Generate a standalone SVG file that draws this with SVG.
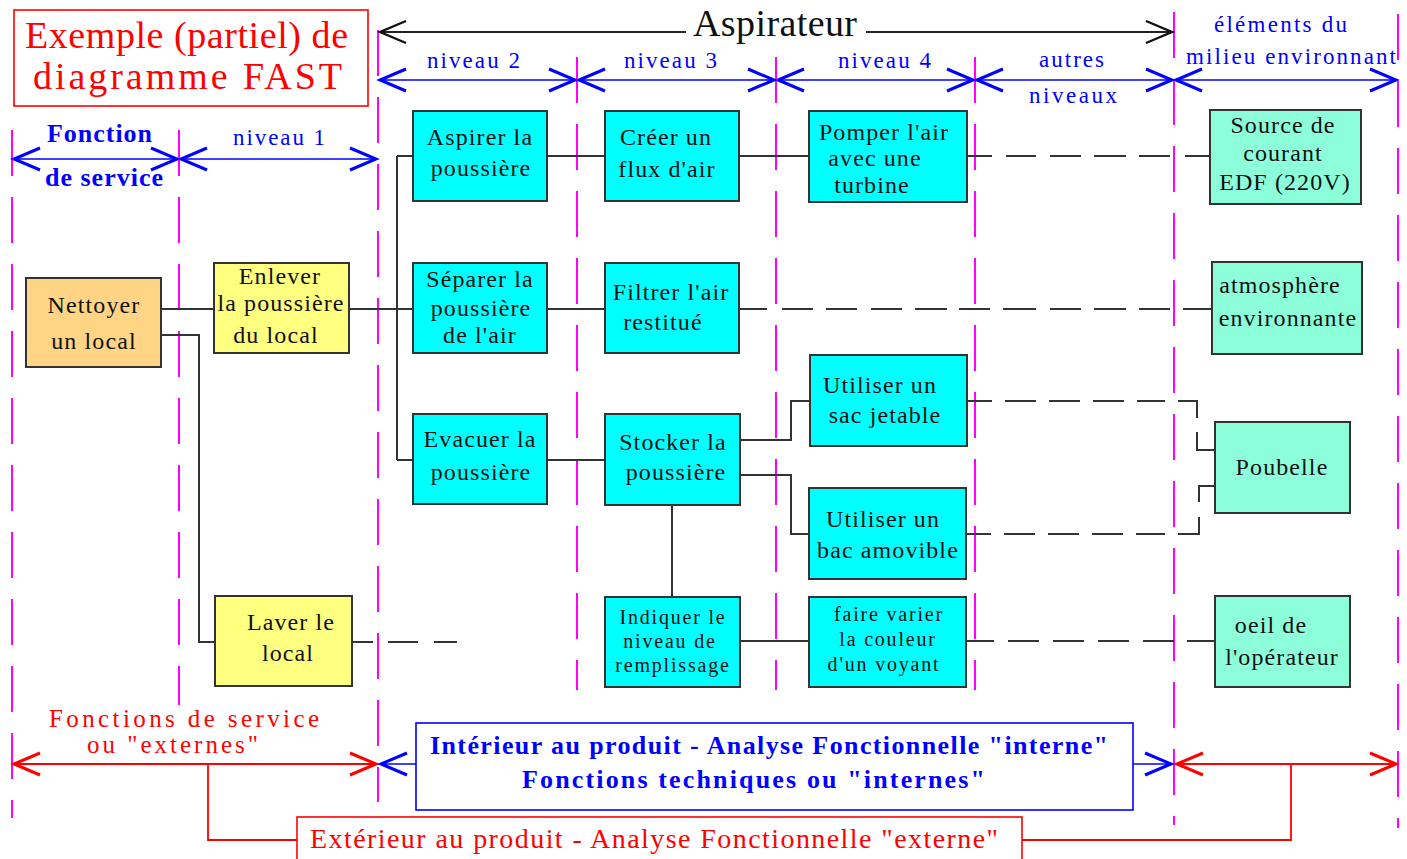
<svg xmlns="http://www.w3.org/2000/svg" width="1407" height="859" viewBox="0 0 1407 859">
<style>
.bg{fill:#fff}
.mg{stroke:#FF00FF;stroke-width:2;stroke-dasharray:46 21;fill:none}
.box{stroke:#333;stroke-width:2}
.cy{fill:#00FFFF}.aq{fill:#8CFFDA}.ye{fill:#FFFF80}.or{fill:#FFD585}
.t{font-family:"Liberation Serif","Times New Roman",serif;font-size:24px;letter-spacing:1.1px;fill:#111;text-anchor:middle}
.s{font-size:20px;letter-spacing:1.8px}
.c{stroke:#333;stroke-width:2;fill:none}
.bl{font-family:"Liberation Serif","Times New Roman",serif;fill:#0000FF}
.rd{font-family:"Liberation Serif","Times New Roman",serif;fill:#FF0000}
.la{stroke:#0000FF;stroke-width:1.6;fill:none}
.lk{stroke:#222;stroke-width:1.8;fill:none}
.lr{stroke:#FF0000;stroke-width:1.8;fill:none}
</style>
<defs>
<marker id="ab" markerUnits="userSpaceOnUse" markerWidth="34" markerHeight="30" refX="29" refY="14" orient="auto-start-reverse" overflow="visible"><path d="M3,3 L29,14 L3,25" fill="none" stroke="#0000FF" stroke-width="3"/></marker>
<marker id="ak" markerUnits="userSpaceOnUse" markerWidth="34" markerHeight="30" refX="29" refY="14" orient="auto-start-reverse" overflow="visible"><path d="M3,3 L29,14 L3,25" fill="none" stroke="#111" stroke-width="2.4"/></marker>
<marker id="ar" markerUnits="userSpaceOnUse" markerWidth="34" markerHeight="30" refX="29" refY="14" orient="auto-start-reverse" overflow="visible"><path d="M3,3 L29,14 L3,25" fill="none" stroke="#FF0000" stroke-width="3"/></marker>
</defs>
<rect class="bg" x="0" y="0" width="1407" height="859"/>

<g id="guides">
<line class="mg" x1="12" y1="130" x2="12" y2="818"/>
<line class="mg" x1="179" y1="130" x2="179" y2="705"/>
<line class="mg" x1="378" y1="30" x2="378" y2="802"/>
<line class="mg" x1="577" y1="57" x2="577" y2="690"/>
<line class="mg" x1="776" y1="57" x2="776" y2="690"/>
<line class="mg" x1="975" y1="57" x2="975" y2="690"/>
<line class="mg" x1="1174" y1="12" x2="1174" y2="825"/>
<line class="mg" x1="1398" y1="14" x2="1398" y2="828"/>
</g>

<g id="title">
<rect x="14" y="10" width="354" height="96" fill="none" stroke="#FF0000" stroke-width="1.6"/>
<text class="rd" x="25" y="48" font-size="38" textLength="323" lengthAdjust="spacing">Exemple (partiel) de</text>
<text class="rd" x="33" y="89" font-size="38" textLength="309" lengthAdjust="spacing">diagramme FAST</text>
</g>

<g id="header">
<path class="lk" d="M380,32 H686" marker-start="url(#ak)"/>
<path class="lk" d="M866,32 H1172" marker-end="url(#ak)"/>
<text x="693" y="36" font-family="Liberation Serif,serif" font-size="38" fill="#111" textLength="164" lengthAdjust="spacing">Aspirateur</text>
<path class="la" d="M380,80 H575" marker-start="url(#ab)" marker-end="url(#ab)"/>
<path class="la" d="M579,80 H774" marker-start="url(#ab)" marker-end="url(#ab)"/>
<path class="la" d="M778,80 H973" marker-start="url(#ab)" marker-end="url(#ab)"/>
<path class="la" d="M977,80 H1172" marker-start="url(#ab)" marker-end="url(#ab)"/>
<path class="la" d="M1176,80 H1396" marker-start="url(#ab)" marker-end="url(#ab)"/>
<path class="la" d="M14,159 H177" marker-start="url(#ab)" marker-end="url(#ab)"/>
<path class="la" d="M181,159 H376" marker-start="url(#ab)" marker-end="url(#ab)"/>
<text class="bl" x="427" y="68" font-size="23" textLength="93" lengthAdjust="spacing">niveau 2</text>
<text class="bl" x="624" y="68" font-size="23" textLength="93" lengthAdjust="spacing">niveau 3</text>
<text class="bl" x="838" y="68" font-size="23" textLength="93" lengthAdjust="spacing">niveau 4</text>
<text class="bl" x="1039" y="67" font-size="23" textLength="65" lengthAdjust="spacing">autres</text>
<text class="bl" x="1029" y="103" font-size="23" textLength="88" lengthAdjust="spacing">niveaux</text>
<text class="bl" x="1214" y="32" font-size="23" textLength="133" lengthAdjust="spacing">éléments du</text>
<text class="bl" x="1186" y="64" font-size="23" textLength="210" lengthAdjust="spacing">milieu environnant</text>
<text class="bl" x="233" y="145" font-size="23" textLength="92" lengthAdjust="spacing">niveau 1</text>
<text class="bl" x="47" y="142" font-size="26" font-weight="bold" textLength="105" lengthAdjust="spacing">Fonction</text>
<text class="bl" x="45" y="186" font-size="26" font-weight="bold" textLength="118" lengthAdjust="spacing">de service</text>
</g>

<g id="connectors">
<path class="c" d="M161,309 H214"/>
<path class="c" d="M349,309 H413"/>
<path class="c" d="M397,156 V460 M397,156 H413 M397,460 H413"/>
<path class="c" d="M161,335 H199 V642 H215"/>
<path class="c" d="M352,642 H457" stroke-dasharray="21 15 30 16 23"/>
<path class="c" d="M547,156 H605"/>
<path class="c" d="M739,156 H809"/>
<path class="c" d="M967,156 H1210" stroke-dasharray="25 14 30 14 31 13 32 13 31 15 25"/>
<path class="c" d="M547,309 H605"/>
<path class="c" d="M739,309 H1212" stroke-dasharray="28 15 31 13 31 14 31 13 32 12 31 13 33 14 31 13 32 13 31 13 29"/>
<path class="c" d="M547,460 H605"/>
<path class="c" d="M740,440 H791 V401 H810"/>
<path class="c" d="M740,475 H791 V534 H809"/>
<path class="c" d="M672,505 V597"/>
<path class="c" d="M740,641 H809"/>
<path class="c" d="M966,641 H1215" stroke-dasharray="28 14 31 14 31 14 31 14 31 13 28"/>
<path class="c" d="M967,401 H1197 V450 H1215" stroke-dasharray="25 13 31 13 31 13 31 13 28 13 36 14 36"/>
<path class="c" d="M966,534 H1199 V486 H1215" stroke-dasharray="25 13 31 13 31 13 31 13 29 13 38 15 32"/>
</g>

<g id="n-nettoyer"><rect class="box or" x="26" y="278" width="135" height="89"/>
<text class="t" x="94" y="313">Nettoyer</text><text class="t" x="94" y="349">un local</text></g>
<g id="n-enlever"><rect class="box ye" x="214" y="263" width="135" height="90"/>
<text class="t" x="280" y="284">Enlever</text><text class="t" x="281" y="311">la poussière</text><text class="t" x="276" y="343">du local</text></g>
<g id="n-laver"><rect class="box ye" x="215" y="596" width="137" height="90"/>
<text class="t" x="291" y="630">Laver le</text><text class="t" x="288" y="661">local</text></g>
<g id="n-aspirer"><rect class="box cy" x="413" y="111" width="134" height="90"/>
<text class="t" x="480" y="145">Aspirer la</text><text class="t" x="481" y="176">poussière</text></g>
<g id="n-separer"><rect class="box cy" x="413" y="263" width="134" height="90"/>
<text class="t" x="480" y="287">Séparer la</text><text class="t" x="481" y="316">poussière</text><text class="t" x="480" y="343">de l'air</text></g>
<g id="n-evacuer"><rect class="box cy" x="413" y="414" width="134" height="90"/>
<text class="t" x="480" y="447">Evacuer la</text><text class="t" x="481" y="480">poussière</text></g>
<g id="n-creer"><rect class="box cy" x="605" y="111" width="134" height="90"/>
<text class="t" x="666" y="145">Créer un</text><text class="t" x="667" y="177">flux d'air</text></g>
<g id="n-filtrer"><rect class="box cy" x="605" y="263" width="134" height="90"/>
<text class="t" x="671" y="300">Filtrer l'air</text><text class="t" x="663" y="330">restitué</text></g>
<g id="n-stocker"><rect class="box cy" x="605" y="414" width="135" height="91"/>
<text class="t" x="673" y="450">Stocker la</text><text class="t" x="676" y="480">poussière</text></g>
<g id="n-indiquer"><rect class="box cy" x="605" y="597" width="135" height="90"/>
<text class="t s" x="673" y="624">Indiquer le</text><text class="t s" x="670" y="648">niveau de</text><text class="t s" x="673" y="672">remplissage</text></g>
<g id="n-pomper"><rect class="box cy" x="809" y="111" width="158" height="91"/>
<text class="t" x="884" y="140">Pomper l'air</text><text class="t" x="875" y="166">avec une</text><text class="t" x="872" y="193">turbine</text></g>
<g id="n-sac"><rect class="box cy" x="810" y="355" width="157" height="91"/>
<text class="t" x="880" y="393">Utiliser un</text><text class="t" x="885" y="423">sac jetable</text></g>
<g id="n-bac"><rect class="box cy" x="809" y="488" width="157" height="91"/>
<text class="t" x="883" y="527">Utiliser un</text><text class="t" x="888" y="558">bac amovible</text></g>
<g id="n-voyant"><rect class="box cy" x="809" y="597" width="157" height="90"/>
<text class="t s" x="889" y="621">faire varier</text><text class="t s" x="888" y="646">la couleur</text><text class="t s" x="884" y="671">d'un voyant</text></g>
<g id="n-source"><rect class="box aq" x="1210" y="110" width="151" height="94"/>
<text class="t" x="1283" y="133">Source de</text><text class="t" x="1283" y="161">courant</text><text class="t" x="1285" y="190">EDF (220V)</text></g>
<g id="n-atmo"><rect class="box aq" x="1212" y="262" width="150" height="92"/>
<text class="t" x="1280" y="293">atmosphère</text><text class="t" x="1288" y="326">environnante</text></g>
<g id="n-poubelle"><rect class="box aq" x="1215" y="422" width="135" height="91"/>
<text class="t" x="1282" y="475">Poubelle</text></g>
<g id="n-oeil"><rect class="box aq" x="1215" y="596" width="135" height="91"/>
<text class="t" x="1271" y="633">oeil de</text><text class="t" x="1282" y="665">l'opérateur</text></g>

<g id="legend">
<text class="rd" x="49" y="727" font-size="25" textLength="270" lengthAdjust="spacing">Fonctions de service</text>
<text class="rd" x="87" y="753" font-size="25" textLength="171" lengthAdjust="spacing">ou "externes"</text>
<path class="lr" d="M14,764 H376" marker-start="url(#ar)" marker-end="url(#ar)"/>
<path class="lr" d="M1177,764 H1396" marker-start="url(#ar)" marker-end="url(#ar)"/>
<path class="la" d="M416,764 H381" marker-end="url(#ab)"/>
<path class="la" d="M1133,764 H1171" marker-end="url(#ab)"/>
<rect x="416" y="723" width="717" height="87" fill="#fff" stroke="#0000FF" stroke-width="1.6"/>
<text class="bl" x="430" y="754" font-size="26" font-weight="bold" textLength="678" lengthAdjust="spacing">Intérieur au produit - Analyse Fonctionnelle "interne"</text>
<text class="bl" x="522" y="788" font-size="26" font-weight="bold" textLength="463" lengthAdjust="spacing">Fonctions techniques ou "internes"</text>
<path class="lr" d="M208,764 V840 H297"/>
<path class="lr" d="M1022,840 H1291 V764"/>
<rect x="297" y="817" width="725" height="60" fill="#fff" stroke="#FF0000" stroke-width="1.6"/>
<text class="rd" x="310" y="848" font-size="28" textLength="688" lengthAdjust="spacing">Extérieur au produit - Analyse Fonctionnelle "externe"</text>
</g>
</svg>
